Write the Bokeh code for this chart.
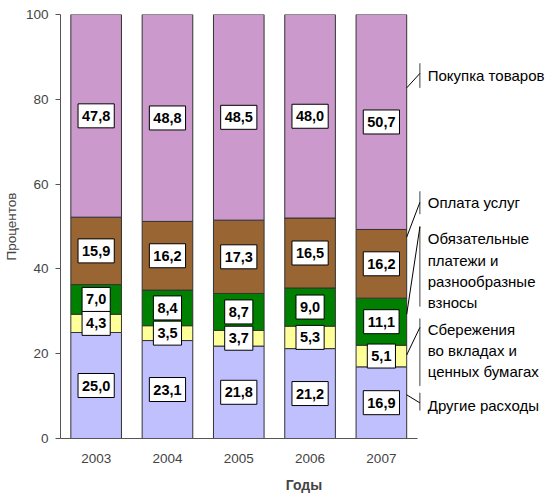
import numpy as np
from bokeh.plotting import figure
from bokeh.models import ColumnDataSource, Range1d, FixedTicker, LinearAxis
from bokeh.core.properties import value
from bokeh.embed import file_html
from bokeh.resources import INLINE

# ---- data ----
years = ["2003", "2004", "2005", "2006", "2007"]
series_names = ["Другие расходы", "Сбережения во вкладах и ценных бумагах",
                "Обязательные платежи и разнообразные взносы", "Оплата услуг",
                "Покупка товаров"]
other = [25.0, 23.1, 21.8, 21.2, 16.9]
savings = [4.3, 3.5, 3.7, 5.3, 5.1]
mandatory = [7.0, 8.4, 8.7, 9.0, 11.1]
services = [15.9, 16.2, 17.3, 16.5, 16.2]
goods = [47.8, 48.8, 48.5, 48.0, 50.7]
y_ticks = [0, 20, 40, 60, 80, 100]

# label texts (with line breaks) for the right-side annotations, bottom->top order
label_texts = ["Другие расходы", "Сбережения\nво вкладах и\nценных бумагах",
               "Обязательные\nплатежи и\nразнообразные\nвзносы", "Оплата услуг",
               "Покупка товаров"]

# ---- layout / style ----
colors = ["#C0C0FF", "#FFFF99", "#008000", "#996633", "#CC99CC"]
BAR_W = 0.71
label_y = [7.7, 20.8, 39.6, 55.7, 85.7]
vline_top = [10.8, 28.3, 50.1, 58.3, 88.5]
vline_bot = [6.6, 12.4, 31.1, 52.9, 82.7]
leader_from = [10.3, 19.7, 29.3, 47.5, 82.7]
leader_to = [8.4, 26.2, 49.9, 55.7, 86.1]
VLINE_X = 5.04
TEXT_X = 5.15
FONT = "Liberation Sans"

xs = np.arange(len(years)) + 0.5
keys = ["other", "savings", "mandatory", "services", "goods"]
data_cols = [other, savings, mandatory, services, goods]
source = ColumnDataSource(dict(x=xs, **{k: v for k, v in zip(keys, data_cols)}))

p = figure(width=547, height=495, output_backend="svg", toolbar_location=None,
           x_range=Range1d(0, 489 / 71.6), y_range=Range1d(0, 100),
           x_axis_type=None, y_axis_type=None,
           min_border_left=58, min_border_right=0, min_border_top=14, min_border_bottom=54)
p.outline_line_color = None
p.background_fill_color = "white"

p.vbar_stack(keys, x="x", width=BAR_W, source=source, fill_color=colors,
             line_color="#333333", line_width=1)

# value labels at segment centers
arr = np.array(data_cols)
cum = np.cumsum(arr, axis=0)
mid = cum - arr / 2
lx, ly, lt = [], [], []
for i in range(arr.shape[0]):
    for j in range(arr.shape[1]):
        lx.append(xs[j]); ly.append(mid[i, j]); lt.append(f"{arr[i, j]:.1f}".replace(".", ","))
p.text(x=lx, y=ly, text=lt, text_font=value(FONT), text_font_style="bold",
       text_font_size="14.5px", text_align="center", text_baseline="middle",
       text_color="black", background_fill_color="white", border_line_color="black",
       border_line_width=1, padding=(4, 7))

# right-side annotations
bar_edge = xs[-1] + BAR_W / 2
p.segment(x0=[VLINE_X] * 5, y0=vline_bot, x1=[VLINE_X] * 5, y1=vline_top,
          line_color="#404040", line_width=1)
p.segment(x0=[bar_edge] * 5, y0=leader_from, x1=[VLINE_X] * 5, y1=leader_to,
          line_color="black", line_width=1)
p.text(x=[TEXT_X] * 5, y=label_y, text=label_texts, text_font=value(FONT),
       text_font_size="15px", text_align="left", text_baseline="middle",
       text_color="black", text_line_height=1.24)

# axes
yaxis = LinearAxis(ticker=FixedTicker(ticks=y_ticks), bounds=(0, 100))
yaxis.axis_label = "Процентов"
yaxis.axis_label_text_font = FONT
yaxis.axis_label_text_font_style = "normal"
yaxis.axis_label_text_font_size = "13.5px"
yaxis.axis_label_standoff = 4
yaxis.major_label_text_font = FONT
yaxis.major_label_text_font_size = "13.5px"
yaxis.major_label_standoff = 7
yaxis.major_tick_out = 5
yaxis.major_tick_in = 0
yaxis.minor_tick_line_color = None
yaxis.axis_line_color = "#555555"
yaxis.major_tick_line_color = "#555555"
p.add_layout(yaxis, "left")

xaxis = LinearAxis(ticker=FixedTicker(ticks=list(xs)), bounds=(0, len(years)))
xaxis.major_label_overrides = {float(x): y for x, y in zip(xs, years)}
xaxis.axis_label = "Годы"
xaxis.axis_label_text_font = FONT
xaxis.axis_label_text_font_style = "bold"
xaxis.axis_label_text_font_size = "14px"
xaxis.axis_label_standoff = 11
xaxis.major_label_text_font = FONT
xaxis.major_label_text_font_size = "13.5px"
xaxis.major_label_standoff = 15
xaxis.major_tick_out = 0
xaxis.major_tick_in = 0
xaxis.minor_tick_line_color = None
xaxis.axis_line_color = "#555555"
p.add_layout(xaxis, "below")

open("out.html", "w").write(file_html(p, INLINE))
